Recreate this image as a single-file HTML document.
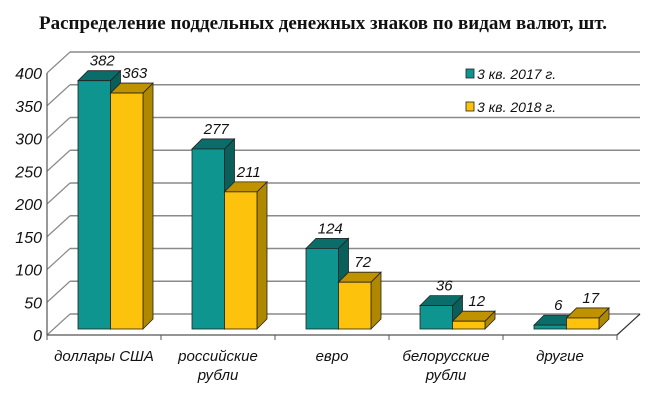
<!DOCTYPE html>
<html><head><meta charset="utf-8"><style>
body{margin:0;background:#fff}
svg{display:block}
text{font-family:"Liberation Sans",sans-serif;font-style:italic;fill:#111}
</style></head><body>
<svg id="c" width="666" height="402">
<text x="323" y="29" text-anchor="middle" style="font-family:'Liberation Serif',serif;font-style:normal;font-weight:bold;font-size:19px">Распределение поддельных денежных знаков по видам валют, шт.</text>
<g id="grid"></g>
<g id="axes"></g>
<g id="bars"></g>
<g>
<g><rect x="466" y="69" width="8" height="9" fill="#0f9590" stroke="#222" stroke-width="0.8"/><text x="477" y="79" font-size="14">3 кв. 2017 г.</text></g>
<g><rect x="466" y="102" width="8" height="9" fill="#fdc20c" stroke="#222" stroke-width="0.8"/><text x="477" y="112" font-size="14">3 кв. 2018 г.</text></g>
</g>
</svg>
<script>
const categories=[["доллары США"],["российские","рубли"],["евро"],["белорусские","рубли"],["другие"]];
const s2017=[382,277,124,36,6];
const s2018=[363,211,72,12,17];
const ticks=[0,50,100,150,200,250,300,350,400];
const NS="http://www.w3.org/2000/svg";
function mk(t,a,p){const e=document.createElementNS(NS,t);for(const k in a)e.setAttribute(k,a[k]);p.appendChild(e);return e;}
const fx0=47,fy0=335,dx=23,dy=-21,step=114;
const yF=v=>fy0-v*0.655;            // front wall
const yBar=v=>329-v*0.65;            // bar front scale
const grid=document.getElementById('grid'),axes=document.getElementById('axes'),bars=document.getElementById('bars');
ticks.forEach(t=>{
  const y=yF(t);
  const l=mk('line',{x1:fx0+dx,y1:y+dy,x2:fx0+dx+570,y2:y+dy,stroke:'#8a8a8a','stroke-width':1.5},grid);
  
  
  const d=mk('line',{x1:fx0,y1:y,x2:fx0+dx,y2:y+dy,stroke:'#8a8a8a','stroke-width':1.2},grid);
  
  
  const tx=mk('text',{x:42,y:y+6,'text-anchor':'end','font-size':16},axes);
  tx.textContent=t;
  
  
});
mk('line',{x1:fx0,y1:yF(400),x2:fx0,y2:fy0,stroke:'#555','stroke-width':1.2},axes);
mk('line',{x1:fx0,y1:fy0,x2:fx0+570,y2:fy0,stroke:'#555','stroke-width':1.2},axes);
mk('line',{x1:fx0+570,y1:fy0,x2:fx0+570+dx,y2:fy0+dy,stroke:'#333','stroke-width':1.2},axes);
for(let i=0;i<=5;i++)mk('line',{x1:fx0+i*step,y1:fy0,x2:fx0+i*step,y2:fy0+5,stroke:'#555'},axes);
categories.forEach((c,i)=>{
  c.forEach((ln,j)=>{
    const t=mk('text',{x:fx0+step*i+57,y:361+j*19,'text-anchor':'middle','font-size':15},axes);
    t.textContent=ln;
    
    
  });
});
function bar(x,v,front,top,side,name){
  const w=32.5,d=10,yb=329,yt=yBar(v);
  const g=mk('g',{},bars);
  
  
  mk('polygon',{points:`${x+w},${yb} ${x+w+d},${yb-d} ${x+w+d},${yt-d} ${x+w},${yt}`,fill:side,stroke:'#222','stroke-width':0.8},g);
  mk('polygon',{points:`${x},${yt} ${x+d},${yt-d} ${x+w+d},${yt-d} ${x+w},${yt}`,fill:top,stroke:'#222','stroke-width':0.8},g);
  mk('rect',{x:x,y:yt,width:w,height:yb-yt,fill:front,stroke:'#222','stroke-width':0.8},g);
  const t=mk('text',{x:x+w/2+8,y:yt-15,'text-anchor':'middle','font-size':15},g);
  t.textContent=v;
}
categories.forEach((c,i)=>{
  const x=78+i*step;
  bar(x,s2017[i],'#0f9590','#0b6d69','#0a5f5b','bar-2017-'+i);
  bar(x+32.5,s2018[i],'#fdc20c','#c09200','#b08800','bar-2018-'+i);
});
</script>
</body></html>
